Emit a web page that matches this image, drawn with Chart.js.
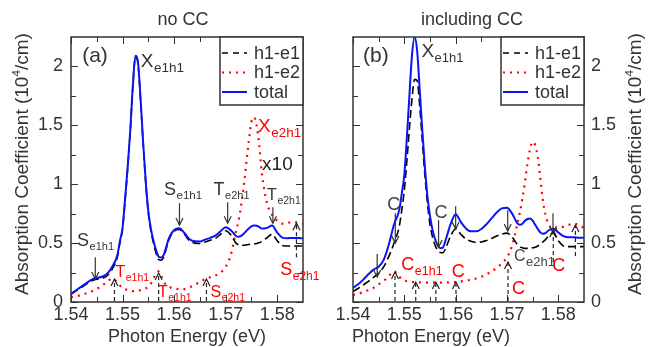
<!DOCTYPE html>
<html>
<head>
<meta charset="utf-8">
<script src="https://cdn.jsdelivr.net/npm/chart.js@4/dist/chart.umd.min.js"></script>
<style>
  html, body { margin:0; padding:0; background:#fff; }
  #wrap { position:relative; width:658px; height:347px; }
  #chartA { position:absolute; left:0; top:0; }
  #chartB { position:absolute; left:330px; top:0; }
</style>
</head>
<body>
<div id="wrap">
  <canvas id="chartA" width="330" height="347"></canvas>
  <canvas id="chartB" width="328" height="347"></canvas>
</div>
<script>
// ── Data (photon energy in eV, absorption in 10^4/cm; h1-e2 shown x10) ──────
const energies = [
  1.540,1.541,1.542,1.543,1.544,1.545,1.546,1.547,1.548,1.549,
  1.5495,1.550,1.5505,1.551,1.5515,1.552,1.5525,1.553,1.5535,1.554,1.5545,1.555,1.5555,1.556,1.5565,1.557,1.5575,1.558,
  1.559,1.560,1.561,1.562,1.563,1.564,1.565,1.566,1.567,1.568,1.569,1.570,1.571,1.572,
  1.5725,1.573,1.5735,1.574,1.5745,1.575,1.5755,1.576,1.5765,1.577,1.5775,1.578,
  1.579,1.580,1.581,1.582,1.583,1.584,1.585
];

// panel (a) no CC
const totalA = [
  0.07,0.10,0.13,0.16,0.19,0.205,0.214,0.24,0.30,0.40,
  0.52,0.63,0.88,1.15,1.46,1.84,2.09,2.03,1.72,1.35,1.02,0.77,0.62,0.52,0.44,0.386,0.377,0.402,
  0.543,0.612,0.626,0.586,0.533,0.515,0.514,0.53,0.545,0.563,0.60,0.635,0.61,0.56,
  0.554,0.562,0.58,0.603,0.625,0.643,0.65,0.647,0.637,0.623,0.625,0.629,
  0.649,0.589,0.547,0.542,0.543,0.543,0.541
];
const h1e1A = [
  0.066,0.095,0.124,0.153,0.181,0.194,0.20,0.223,0.28,0.383,
  0.506,0.618,0.869,1.14,1.45,1.83,2.08,2.02,1.71,1.34,1.01,0.757,0.604,0.50,0.415,0.36,0.355,0.385,
  0.53,0.60,0.615,0.575,0.52,0.50,0.497,0.51,0.524,0.54,0.575,0.605,0.57,0.50,
  0.485,0.48,0.482,0.485,0.488,0.49,0.493,0.497,0.503,0.513,0.53,0.545,
  0.575,0.52,0.48,0.475,0.475,0.475,0.475
];
const h1e2A = [
  0.04,0.05,0.06,0.075,0.09,0.11,0.14,0.17,0.20,0.165,
  0.14,0.12,0.11,0.10,0.095,0.092,0.092,0.095,0.10,0.105,0.115,0.13,0.155,0.20,0.245,0.26,0.22,0.17,
  0.13,0.115,0.11,0.11,0.125,0.145,0.17,0.195,0.21,0.225,0.25,0.30,0.40,0.60,
  0.69,0.82,0.98,1.18,1.37,1.53,1.57,1.50,1.34,1.10,0.95,0.84,
  0.74,0.69,0.665,0.67,0.68,0.675,0.665
];

// panel (b) including CC
const totalB = [
  0.12,0.15,0.19,0.235,0.275,0.30,0.36,0.49,0.66,0.78,
  0.92,1.08,1.40,1.76,2.10,2.25,2.13,1.80,1.46,1.15,0.90,0.73,0.61,0.535,0.48,0.457,0.462,0.52,
  0.66,0.745,0.68,0.625,0.60,0.60,0.62,0.66,0.71,0.76,0.795,0.80,0.75,0.67,
  0.655,0.665,0.69,0.705,0.71,0.69,0.655,0.62,0.59,0.58,0.585,0.605,
  0.625,0.59,0.56,0.55,0.55,0.545,0.545
];
const h1e1B = [
  0.09,0.115,0.145,0.175,0.21,0.245,0.30,0.39,0.50,0.64,
  0.78,0.95,1.20,1.48,1.73,1.89,1.88,1.66,1.37,1.08,0.84,0.66,0.55,0.48,0.44,0.42,0.418,0.45,
  0.56,0.62,0.575,0.535,0.515,0.507,0.51,0.522,0.54,0.56,0.577,0.585,0.55,0.49,
  0.47,0.46,0.455,0.455,0.455,0.46,0.465,0.475,0.49,0.51,0.53,0.555,
  0.585,0.52,0.475,0.47,0.47,0.47,0.47
];
const h1e2B = [
  0.06,0.07,0.085,0.10,0.12,0.15,0.18,0.22,0.26,0.215,
  0.195,0.183,0.176,0.172,0.17,0.168,0.167,0.166,0.165,0.165,0.165,0.165,0.165,0.165,0.165,0.165,0.165,0.166,
  0.167,0.17,0.175,0.18,0.19,0.20,0.215,0.235,0.26,0.29,0.33,0.38,0.48,0.66,
  0.76,0.88,1.02,1.18,1.30,1.36,1.33,1.23,1.05,0.86,0.74,0.67,
  0.62,0.625,0.64,0.655,0.665,0.655,0.63
];

const xTicks = [1.54, 1.55, 1.56, 1.57, 1.58];
const xMinor = [1.545, 1.555, 1.565, 1.575];
const yTicks = [0, 0.5, 1, 1.5, 2];
const yMinor = [0.25, 0.75, 1.25, 1.75];

// ── Annotations (energy, value) ──────────────────────────────────────────────
const labelsA = [
  { x:1.54216, y:2.034, t:'(a)', s:'', size:21, color:'#333' },
  { x:1.55353, y:1.992, t:'X', s:'e1h1', size:19, sub:13.5, color:'#333' },
  { x:1.54118, y:0.475, t:'S', s:'e1h1', size:18, sub:11, color:'#333' },
  { x:1.54863, y:0.212, t:'T', s:'e1h1', size:16, sub:10.5, color:'#f00' },
  { x:1.55686, y:0.042, t:'T', s:'e1h1', size:16, sub:10.5, color:'#f00' },
  { x:1.56706, y:0.042, t:'S', s:'e2h1', size:16, sub:10.5, color:'#f00' },
  { x:1.55804, y:0.911, t:'S', s:'e1h1', size:18, sub:11.5, color:'#333' },
  { x:1.56765, y:0.911, t:'T', s:'e2h1', size:18, sub:11, color:'#333' },
  { x:1.57804, y:0.864, t:'T', s:'e2h1', size:16, sub:10.5, color:'#333' },
  { x:1.57706, y:1.119, t:'x10', s:'', size:19, color:'#222' },
  { x:1.57627, y:1.445, t:'X', s:'e2h1', size:19, sub:13.5, color:'#f00' },
  { x:1.58059, y:0.233, t:'S', s:'e2h1', size:18, sub:12, color:'#f00' }
];
const arrowsA = [
  { x:1.54471, from:0.381, to:0.195, dash:false },
  { x:1.54843, from:0.008, to:0.195, dash:true },
  { x:1.55700, from:0.008, to:0.246, dash:true },
  { x:1.56627, from:0.008, to:0.195, dash:true },
  { x:1.56104, from:0.839, to:0.653, dash:false },
  { x:1.57039, from:0.847, to:0.669, dash:false },
  { x:1.57916, from:0.805, to:0.669, dash:false },
  { x:1.58373, from:0.381, to:0.669, dash:true }
];
const labelsB = [
  { x:1.54196, y:2.034, t:'(b)', s:'', size:21, color:'#333' },
  { x:1.55333, y:2.076, t:'X', s:'e1h1', size:19, sub:13, color:'#333' },
  { x:1.54667, y:0.784, t:'C', s:'', size:18, color:'#444' },
  { x:1.55588, y:0.716, t:'C', s:'', size:18, color:'#444' },
  { x:1.54941, y:0.275, t:'C', s:'e1h1', size:18, sub:12.5, color:'#f00' },
  { x:1.55922, y:0.216, t:'C', s:'', size:18, color:'#f00' },
  { x:1.57137, y:0.347, t:'C', s:'e2h1', size:16, sub:13, color:'#444' },
  { x:1.57882, y:0.263, t:'C', s:'', size:18, color:'#f00' },
  { x:1.57098, y:0.064, t:'C', s:'', size:18, color:'#f00' }
];
const arrowsB = [
  { x:1.54471, from:0.407, to:0.212, dash:false },
  { x:1.54824, from:0.754, to:0.500, dash:false },
  { x:1.55667, from:0.695, to:0.466, dash:false },
  { x:1.56000, from:0.814, to:0.619, dash:false },
  { x:1.57014, from:0.780, to:0.602, dash:false },
  { x:1.57896, from:0.754, to:0.585, dash:false },
  { x:1.54818, from:0.008, to:0.254, dash:true },
  { x:1.55222, from:0.008, to:0.169, dash:true },
  { x:1.55614, from:0.008, to:0.169, dash:true },
  { x:1.56006, from:0.008, to:0.169, dash:true },
  { x:1.57020, from:0.008, to:0.339, dash:true },
  { x:1.57902, from:0.339, to:0.610, dash:true },
  { x:1.58333, from:0.390, to:0.653, dash:true }
];

const FONT = '"Liberation Sans", Arial, Helvetica, sans-serif';
const INK = '#333';
const BLUE = '#0a14f5';
const RED = '#ff0000';

function pts(vals) {
  return energies.map((e, i) => ({ x: e, y: vals[i] }));
}

function seriesSets(total, e1, e2) {
  const base = { pointRadius:0, cubicInterpolationMode:'monotone', fill:false };
  return [
    { ...base, label:'total', data:pts(total), borderColor:BLUE, borderWidth:2 },
    { ...base, label:'h1-e1', data:pts(e1), borderColor:'#000', borderWidth:1.6, borderDash:[8,4] },
    { ...base, label:'h1-e2', data:pts(e2), borderColor:RED, borderWidth:2.2, borderDash:[2,5] }
  ];
}

// ── Drawing helpers ──────────────────────────────────────────────────────────
function drawArrow(ctx, x, y1, y2, dashed) {
  ctx.save();
  ctx.strokeStyle = dashed ? '#222' : '#333';
  ctx.lineWidth = 1.2;
  ctx.setLineDash(dashed ? [4,3] : []);
  ctx.beginPath(); ctx.moveTo(x, y1); ctx.lineTo(x, y2); ctx.stroke();
  ctx.setLineDash([]);
  const dir = y2 > y1 ? -1 : 1;
  ctx.beginPath();
  ctx.moveTo(x - 3.5, y2 + dir * 7); ctx.lineTo(x, y2); ctx.lineTo(x + 3.5, y2 + dir * 7);
  ctx.stroke();
  ctx.restore();
}

function drawLabel(ctx, px, py, l) {
  ctx.save();
  ctx.fillStyle = l.color;
  ctx.textBaseline = 'alphabetic';
  ctx.textAlign = 'left';
  ctx.font = l.size + 'px ' + FONT;
  ctx.fillText(l.t, px, py);
  if (l.s) {
    const w = ctx.measureText(l.t).width;
    ctx.font = l.sub + 'px ' + FONT;
    ctx.fillText(l.s, px + w + 0.5, py + Math.round(l.sub * 0.38));
  }
  ctx.restore();
}

function drawYTitle(ctx, cx, cy) {
  const size = 19;
  const parts = ['Absorption Coefficient (10', '4', '/cm)'];
  ctx.save();
  ctx.translate(cx, cy);
  ctx.rotate(-Math.PI / 2);
  ctx.fillStyle = INK;
  ctx.textBaseline = 'middle';
  ctx.textAlign = 'left';
  ctx.font = size + 'px ' + FONT;
  const w0 = ctx.measureText(parts[0]).width;
  const w2 = ctx.measureText(parts[2]).width;
  ctx.font = (size * 0.62) + 'px ' + FONT;
  const w1 = ctx.measureText(parts[1]).width;
  let x = -(w0 + w1 + w2) / 2;
  ctx.font = size + 'px ' + FONT;
  ctx.fillText(parts[0], x, 0);
  x += w0;
  ctx.font = (size * 0.62) + 'px ' + FONT;
  ctx.fillText(parts[1], x, -6);
  x += w1;
  ctx.font = size + 'px ' + FONT;
  ctx.fillText(parts[2], x, 0);
  ctx.restore();
}

function drawLegend(ctx, right, top) {
  const w = 83, h = 68, left = right - w;
  ctx.save();
  ctx.fillStyle = '#fff';
  ctx.fillRect(left, top, w, h);
  ctx.strokeStyle = INK;
  ctx.lineWidth = 1.5;
  ctx.strokeRect(left, top, w, h);
  const rows = [
    { t:'h1-e1', c:'#000', lw:1.6, dash:[6,5] },
    { t:'h1-e2', c:RED, lw:2.2, dash:[2,5] },
    { t:'total', c:BLUE, lw:2, dash:[] }
  ];
  rows.forEach((r, i) => {
    const y = top + 16 + i * 19.5;
    ctx.strokeStyle = r.c; ctx.lineWidth = r.lw; ctx.setLineDash(r.dash);
    ctx.beginPath(); ctx.moveTo(left + 2, y); ctx.lineTo(left + 27, y); ctx.stroke();
    ctx.setLineDash([]);
    ctx.fillStyle = INK;
    ctx.font = '18px ' + FONT;
    ctx.textBaseline = 'middle';
    ctx.textAlign = 'left';
    ctx.fillText(r.t, left + 34, y + 1);
  });
  ctx.restore();
}

// plugin: frame, inward ticks, titles, annotations, legend
const decorations = {
  id: 'decorations',
  afterDraw(chart, args, o) {
    const { ctx, chartArea: a, scales: { x: xs, y: ys } } = chart;
    ctx.save();

    // ticks on all four sides, pointing in
    ctx.strokeStyle = INK; ctx.lineWidth = 1;
    const tick = (v, len, horiz) => {
      if (horiz) {
        const p = Math.round(xs.getPixelForValue(v)) + 0.5;
        ctx.beginPath();
        ctx.moveTo(p, a.bottom); ctx.lineTo(p, a.bottom - len);
        ctx.moveTo(p, a.top); ctx.lineTo(p, a.top + len);
        ctx.stroke();
      } else {
        const p = Math.round(ys.getPixelForValue(v)) + 0.5;
        ctx.beginPath();
        ctx.moveTo(a.left, p); ctx.lineTo(a.left + len, p);
        ctx.moveTo(a.right, p); ctx.lineTo(a.right - len, p);
        ctx.stroke();
      }
    };
    xTicks.forEach(v => tick(v, 7, true));
    xMinor.forEach(v => tick(v, 5, true));
    yTicks.forEach(v => tick(v, 7, false));
    yMinor.forEach(v => tick(v, 5, false));

    // frame
    ctx.lineWidth = 1.5;
    ctx.strokeRect(a.left, a.top, a.right - a.left, a.bottom - a.top);

    // titles
    ctx.fillStyle = INK;
    ctx.font = '18px ' + FONT;
    ctx.textAlign = 'center';
    ctx.textBaseline = 'alphabetic';
    ctx.fillText(o.title, o.titleX, 24.5);
    ctx.fillText('Photon Energy (eV)', o.xTitleX, 342);
    ctx.restore();

    drawYTitle(ctx, o.yTitleX, 164);

    o.arrows.forEach(ar => drawArrow(ctx, xs.getPixelForValue(ar.x),
      ys.getPixelForValue(ar.from), ys.getPixelForValue(ar.to), ar.dash));
    o.labels.forEach(l => drawLabel(ctx, xs.getPixelForValue(l.x), ys.getPixelForValue(l.y), l));

    drawLegend(ctx, a.right, a.top);
  }
};

function makeChart(id, sets, side, opts) {
  const canvas = document.getElementById(id);
  return new Chart(canvas.getContext('2d'), {
    type: 'line',
    data: { datasets: sets },
    plugins: [decorations],
    options: {
      responsive: false,
      animation: false,
      layout: { padding: side === 'left'
        ? { left:0, right:27, top:37, bottom:0 }
        : { left:23, right:0, top:37, bottom:0 } },
      plugins: {
        legend: { display:false },
        tooltip: { enabled:false },
        decorations: opts
      },
      scales: {
        x: {
          type: 'linear', min: 1.54, max: 1.585,
          grid: { display:false, drawTicks:false }, border: { display:false },
          afterBuildTicks: s => { s.ticks = xTicks.map(v => ({ value: v })); },
          afterFit: s => { s.height = 45; },
          ticks: { color: INK, padding: 2, maxRotation: 0, autoSkip: false,
                   font: { family: FONT, size: 18 }, callback: v => v.toFixed(2) }
        },
        y: {
          position: side, min: 0, max: 2.25,
          grid: { display:false, drawTicks:false }, border: { display:false },
          afterBuildTicks: s => { s.ticks = yTicks.map(v => ({ value: v })); },
          afterFit: s => { s.width = side === 'left' ? 71 : 74; },
          ticks: { color: INK, padding: side === 'left' ? 8 : 7,
                   font: { family: FONT, size: 18 }, callback: v => String(v) }
        }
      }
    }
  });
}

makeChart('chartA', seriesSets(totalA, h1e1A, h1e2A), 'left', {
  title: 'no CC', titleX: 183, xTitleX: 187, yTitleX: 23, labels: labelsA, arrows: arrowsA
});
makeChart('chartB', seriesSets(totalB, h1e1B, h1e2B), 'right', {
  title: 'including CC', titleX: 142, xTitleX: 101, yTitleX: 306, labels: labelsB, arrows: arrowsB
});
</script>
</body>
</html>
